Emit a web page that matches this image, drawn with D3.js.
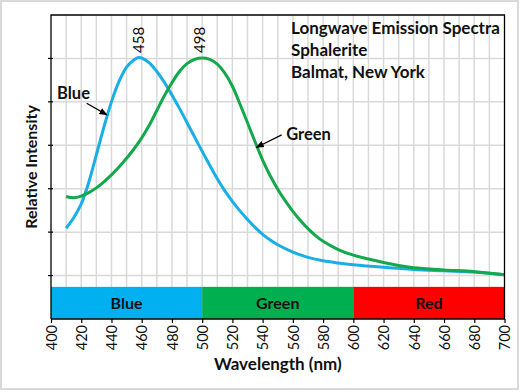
<!DOCTYPE html>
<html>
<head>
<meta charset="utf-8">
<script src="https://cdn.jsdelivr.net/npm/d3@7"></script>
<style>
  html, body { margin: 0; padding: 0; background: #fff; }
  svg { display: block; }
  text { font-family: Lato, "Open Sans", sans-serif; }
</style>
</head>
<body>
<svg id="chart" width="520" height="392"></svg>
<script>
// ---- data ----
const titleLines = ["Longwave Emission Spectra", "Sphalerite", "Balmat, New York"];
const xTicks = [400,420,440,460,480,500,520,540,560,580,600,620,640,660,680,700];
const yTicks = [1,2,3,4,5,6];
const peakLabels = [458, 498];
const bands = [
  {name: "Blue",  start: 400, end: 500, color: "#00B0F0"},
  {name: "Green", start: 500, end: 600, color: "#00B050"},
  {name: "Red",   start: 600, end: 700, color: "#FF0000"}
];
const bandHeight = 0.74;
const blueWl = [410,415,420,425,430,435,440,445,450,455,458,460,465,470,475,480,485,490,495,500,505,510,515,520,525,530,535,540,545,550,560,570,580,590,600,620,640,660,680,700];
const blueVal = [2.09,2.33,2.65,3.15,3.78,4.42,5.0,5.47,5.8,5.97,6.02,6.01,5.9,5.7,5.45,5.16,4.85,4.52,4.19,3.86,3.54,3.23,2.95,2.71,2.49,2.29,2.11,1.95,1.82,1.71,1.54,1.42,1.34,1.29,1.25,1.19,1.14,1.11,1.08,1.02];
const greenWl = [410,415,420,425,430,435,440,445,450,455,460,465,470,475,480,485,490,495,500,505,510,515,520,525,530,535,540,545,550,555,560,565,570,575,580,590,600,610,620,630,640,660,680,700];
const greenVal = [2.82,2.79,2.83,2.91,3.02,3.16,3.32,3.5,3.7,3.92,4.17,4.46,4.8,5.14,5.44,5.7,5.88,5.98,6.01,5.98,5.87,5.66,5.36,4.95,4.52,4.08,3.66,3.3,2.99,2.72,2.48,2.27,2.08,1.92,1.79,1.6,1.47,1.38,1.3,1.23,1.18,1.13,1.09,1.02];

// ---- layout ----
const svg = d3.select("#chart");
const x = d3.scaleLinear().domain([400, 700]).range([51, 504.5]);
const y = d3.scaleLinear().domain([0, 7]).range([319, 15]);

// outer frame
svg.append("rect").attr("x", 1).attr("y", 1).attr("width", 517).attr("height", 388)
  .attr("fill", "#fff").attr("stroke", "#d9d9d9").attr("stroke-width", 2);

// gridlines
const gridX = d3.range(410, 700, 10);
svg.append("g").selectAll("line").data(gridX).join("line")
  .attr("x1", d => x(d)).attr("x2", d => x(d)).attr("y1", y(7)).attr("y2", y(0))
  .attr("stroke", "#d9d9d9").attr("stroke-width", 1.5);
svg.append("g").selectAll("line").data(yTicks).join("line")
  .attr("x1", x(400)).attr("x2", x(700)).attr("y1", d => y(d)).attr("y2", d => y(d))
  .attr("stroke", "#d9d9d9").attr("stroke-width", 1.5);

// colour bands
svg.append("g").selectAll("rect").data(bands).join("rect")
  .attr("x", d => x(d.start)).attr("width", d => x(d.end) - x(d.start))
  .attr("y", y(bandHeight)).attr("height", y(0) - y(bandHeight))
  .attr("fill", d => d.color);
svg.append("g").selectAll("text").data(bands).join("text")
  .attr("x", d => x((d.start + d.end) / 2)).attr("y", y(bandHeight / 2))
  .attr("dy", "0.36em").attr("text-anchor", "middle")
  .attr("font-size", 16).attr("font-weight", "bold").attr("fill", "#111")
  .text(d => d.name);

// curves
const line = d3.line().x(d => x(d[0])).y(d => y(d[1])).curve(d3.curveCatmullRom.alpha(0.5));
svg.append("path").datum(d3.zip(blueWl, blueVal)).attr("d", line)
  .attr("fill", "none").attr("stroke", "#1AAEE6").attr("stroke-width", 3).attr("stroke-linejoin", "round");
svg.append("path").datum(d3.zip(greenWl, greenVal)).attr("d", line)
  .attr("fill", "none").attr("stroke", "#12A84B").attr("stroke-width", 3).attr("stroke-linejoin", "round");

// plot border (top/right) and axes
svg.append("path")
  .attr("d", `M${x(400)},${y(0)}V${y(7)}H${x(700)}V${y(0)}H${x(400)}`)
  .attr("fill", "none").attr("stroke", "#000").attr("stroke-width", 1.3);

// y ticks
svg.append("g").selectAll("line").data(yTicks).join("line")
  .attr("x1", x(400) - 3).attr("x2", x(400) + 2).attr("y1", d => y(d)).attr("y2", d => y(d))
  .attr("stroke", "#000").attr("stroke-width", 1.2);

// x axis ticks and labels
const xAxis = d3.axisBottom(x).tickValues(xTicks).tickSize(4).tickPadding(0).tickFormat(d3.format("d"));
const gx = svg.append("g").attr("transform", `translate(0,${y(0)})`).call(xAxis);
gx.select(".domain").remove();
gx.selectAll(".tick line").attr("stroke", "#000").attr("stroke-width", 1.2);
gx.selectAll(".tick text")
  .attr("font-family", "Lato, sans-serif").attr("font-size", 14.5).attr("fill", "#111")
  .attr("transform", "rotate(-90)")
  .attr("text-anchor", "end").attr("x", -6).attr("y", 0).attr("dy", "0.36em");

// peak labels
svg.append("g").selectAll("text").data(peakLabels).join("text")
  .attr("transform", d => `translate(${x(d)},53) rotate(-90)`)
  .attr("dy", "0.36em").attr("text-anchor", "start")
  .attr("font-size", 15).attr("fill", "#111")
  .text(d => d);

// title
svg.append("g").selectAll("text").data(titleLines).join("text")
  .attr("x", 291).attr("y", (d, i) => 34 + i * 22)
  .attr("font-size", 17).attr("font-weight", "bold").attr("fill", "#111")
  .text(d => d);

// axis titles
svg.append("text").attr("transform", `translate(37,${(y(0) + y(7)) / 2}) rotate(-90)`)
  .attr("text-anchor", "middle").attr("font-size", 16).attr("font-weight", "bold").attr("fill", "#111")
  .text("Relative Intensity");
svg.append("text").attr("x", x(550)).attr("y", 370)
  .attr("text-anchor", "middle").attr("font-size", 17).attr("font-weight", "bold").attr("fill", "#111")
  .text("Wavelength (nm)");

// series labels with arrows
const defs = svg.append("defs");
defs.append("marker").attr("id", "arrow").attr("viewBox", "0 0 10 10")
  .attr("refX", 9).attr("refY", 5).attr("markerWidth", 7).attr("markerHeight", 7)
  .attr("orient", "auto").append("path").attr("d", "M0,1L10,5L0,9z").attr("fill", "#000");
const seriesLabels = [
  {text: "Blue",  tx: 404, ty: 5.07, ax1: 423.6, ay1: 4.97, ax2: 437.0, ay2: 4.70},
  {text: "Green", tx: 555.6, ty: 4.12, ax1: 552.6, ay1: 4.24, ax2: 535.8, ay2: 3.95}
];
seriesLabels.forEach(s => {
  svg.append("text").attr("x", x(s.tx)).attr("y", y(s.ty))
    .attr("font-size", 16.5).attr("font-weight", "bold").attr("fill", "#111").text(s.text);
  svg.append("line").attr("x1", x(s.ax1)).attr("y1", y(s.ay1)).attr("x2", x(s.ax2)).attr("y2", y(s.ay2))
    .attr("stroke", "#000").attr("stroke-width", 1.2).attr("marker-end", "url(#arrow)");
});
</script>
</body>
</html>
